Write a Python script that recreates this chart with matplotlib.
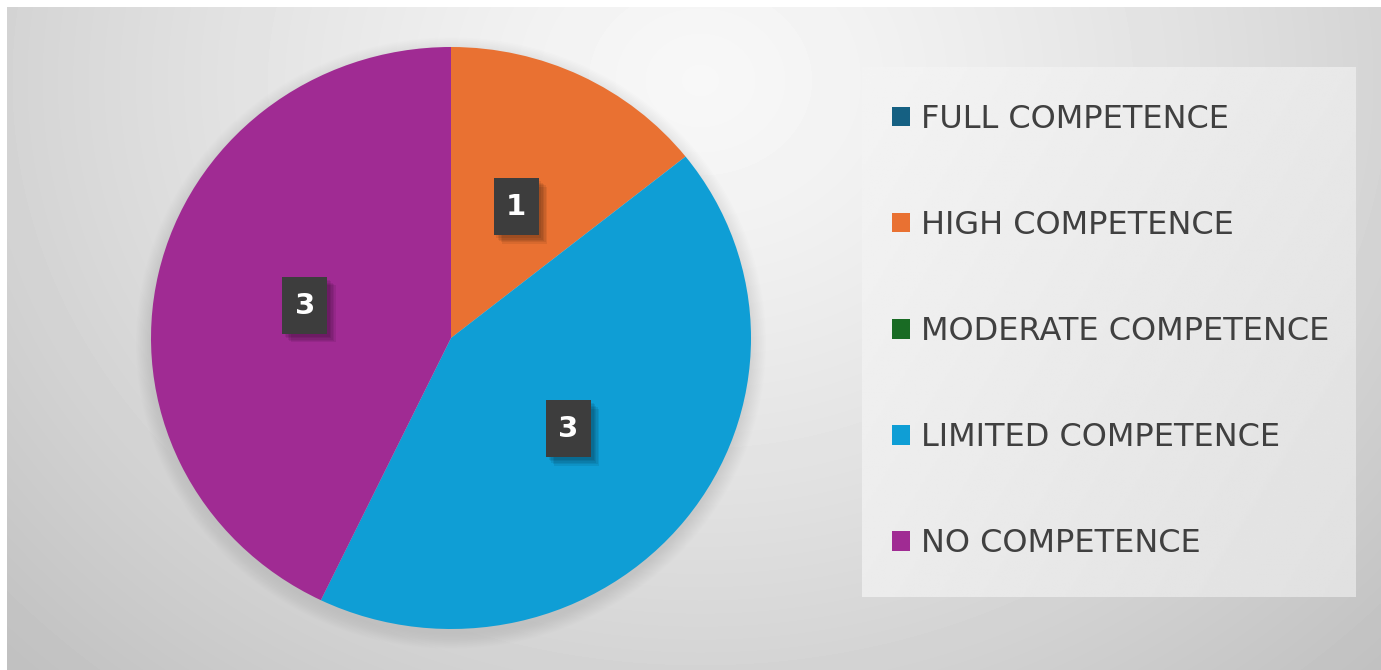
import numpy as np
import matplotlib.pyplot as plt
from matplotlib import patheffects
from matplotlib.path import Path

categories = ['FULL COMPETENCE', 'HIGH COMPETENCE', 'MODERATE COMPETENCE',
              'LIMITED COMPETENCE', 'NO COMPETENCE']
counts = [0, 1, 0, 3, 3]
colors = ['#156082', '#E97132', '#196B24', '#0F9ED5', '#A02B93']

W, H = 1381, 670
fig = plt.figure(figsize=(W / 100, H / 100), dpi=100)
fig.patch.set_facecolor('white')

# backdrop: soft radial grey gradient, lightest near the top middle
bg = fig.add_axes([0, 0, 1, 1])
yy, xx = np.mgrid[7:H, 7:W]
d = np.hypot((xx - 700) / 1.0, (yy - 80) / 0.85) / 880
shade = 0.97 - 0.19 * np.clip(d, 0, 1.1) ** 1.3
bg.imshow(shade, cmap='gray', vmin=0, vmax=1, extent=(7, W, H, 7),
          interpolation='bilinear', zorder=0)

# soft halo around the pie
t = np.linspace(0, 2 * np.pi, 400)
for k in np.linspace(1.05, 1.0, 12):
    bg.fill(451 + 300 * k * np.cos(t), 343 + 291 * k * np.sin(t),
            color='#707070', alpha=0.012, lw=0, zorder=1)

# legend panel
lx0, lx1, ly0, ly1 = 862, 1356, 67, 597
gy, gx = np.mgrid[0:1:200j, 0:1:200j]
panel = 0.955 - 0.075 * (0.6 * gx + 0.4 * gy)
bg.imshow(panel, cmap='gray', vmin=0, vmax=1, extent=(lx0, lx1, ly1, ly0),
          interpolation='bilinear', zorder=2)
bg.set_xlim(0, W)
bg.set_ylim(H, 0)
bg.axis('off')


def fmt(pct):
    n = int(round(pct * sum(counts) / 100))
    return f'{n}' if n else ''


def label_box(x0, y0, width, height, mutation_size):
    # fixed-size dark tag centred on the number
    cx, cy = x0 + width / 2, y0 + height / 2
    hw, hh = 22.5, 28.5
    verts = [(cx - hw, cy - hh), (cx + hw, cy - hh), (cx + hw, cy + hh),
             (cx - hw, cy + hh), (cx - hw, cy - hh)]
    return Path(verts, closed=True)


ax = fig.add_axes([151 / W, (H - 338 - 291) / H, 600 / W, 582 / H])
wedges, _, autotexts = ax.pie(counts, colors=colors, startangle=90,
                              counterclock=False, autopct=fmt,
                              pctdistance=0.5, radius=1)
ax.set_aspect('auto')
ax.set_xlim(-1, 1)
ax.set_ylim(-1, 1)
ax.axis('off')

shadow = [patheffects.SimplePatchShadow(offset=(o, -o), shadow_rgbFace='black', alpha=0.07)
          for o in (2, 3, 4, 5, 6)]
for txt in autotexts:
    txt.set_color('white')
    txt.set_fontsize(21)
    txt.set_fontweight('bold')
    if txt.get_text():
        txt.set_bbox(dict(boxstyle=label_box, facecolor='#3d3d3d', linewidth=0))
        txt.get_bbox_patch().set_path_effects(shadow + [patheffects.Normal()])

leg = ax.legend(wedges, categories, loc='upper left',
                bbox_to_anchor=(876 / W, 1 - 88 / H), bbox_transform=fig.transFigure,
                frameon=False, fontsize=23, handlelength=0.56, handleheight=0.56,
                handletextpad=0.35, labelspacing=2.35, borderpad=0)
for txt in leg.get_texts():
    txt.set_color('#404040')

fig.savefig('out.png', dpi=100)
